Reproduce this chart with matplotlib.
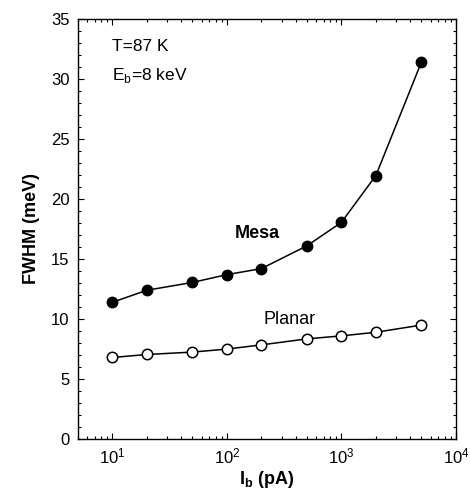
import matplotlib
matplotlib.use('Agg')
import matplotlib.pyplot as plt
from matplotlib.ticker import MultipleLocator, LogLocator, NullFormatter

plt.rcParams['font.family'] = ['Liberation Sans', 'DejaVu Sans']

ib = [10, 20, 50, 100, 200, 500, 1000, 2000, 5000]
mesa = [11.4, 12.4, 13.05, 13.7, 14.2, 16.1, 18.05, 21.95, 31.4]
planar = [6.8, 7.05, 7.25, 7.5, 7.85, 8.35, 8.6, 8.9, 9.5]

fig = plt.figure(figsize=(4.7, 4.94), dpi=100)
ax = fig.add_axes([0.166, 0.111, 0.804, 0.851])

ax.plot(ib, mesa, '-o', color='black', lw=1.1, ms=7.5, mfc='black', mec='black')
ax.plot(ib, planar, '-o', color='black', lw=1.1, ms=7.5, mfc='white', mec='black', mew=1.1)

ax.set_xscale('log')
ax.set_xlim(5, 1e4)
ax.set_ylim(0, 35)
ax.yaxis.set_major_locator(MultipleLocator(5))
ax.yaxis.set_minor_locator(MultipleLocator(1))
ax.xaxis.set_major_locator(LogLocator(base=10, numticks=10))
ax.xaxis.set_minor_locator(LogLocator(base=10, subs=range(2, 10), numticks=20))
ax.xaxis.set_minor_formatter(NullFormatter())

ax.tick_params(which='both', direction='in', top=True, right=True, labelsize=12, width=0.8)
ax.tick_params(which='major', length=4)
ax.tick_params(which='minor', length=2)
ax.tick_params(axis='x', pad=5)
ax.tick_params(axis='y', pad=6)
for s in ax.spines.values():
    s.set_linewidth(1.0)

ax.set_xlabel(r'I$_\mathregular{b}$ (pA)', fontsize=13, fontweight='bold', labelpad=2)
ax.set_ylabel('FWHM (meV)', fontsize=13, fontweight='bold', labelpad=8)

ax.text(0.09, 0.935, 'T=87 K', transform=ax.transAxes, fontsize=12.5, va='center')
ax.text(0.09, 0.865, r'E$_\mathregular{b}$=8 keV', transform=ax.transAxes, fontsize=12.5, va='center')
ax.text(0.415, 0.49, 'Mesa', transform=ax.transAxes, fontsize=13, fontweight='bold', va='center')
ax.text(0.49, 0.285, 'Planar', transform=ax.transAxes, fontsize=13, va='center')

fig.savefig('out.png', dpi=100)
